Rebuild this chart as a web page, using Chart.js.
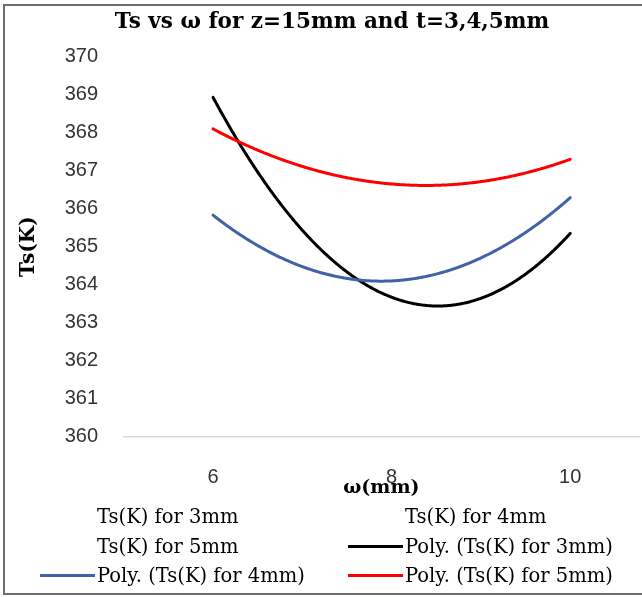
<!DOCTYPE html>
<html><head><meta charset="utf-8">
<script src="https://cdn.jsdelivr.net/npm/chart.js@4"></script>
<style>
html,body{margin:0;padding:0;background:#fff;overflow:hidden;width:642px;height:597px;}
#frame{position:absolute;left:3px;top:4px;right:0;bottom:2px;border:2px solid #6e6e6e;border-right:none;box-sizing:border-box;}
#wrap{position:absolute;left:0;top:0;width:642px;height:500px;}
#legend{position:absolute;left:0;top:0;width:642px;height:597px;font-family:'DejaVu Serif';font-size:19.5px;color:#000;pointer-events:none;}
.item{position:absolute;height:28px;line-height:28px;white-space:nowrap;}
.swatch{display:inline-block;width:55px;height:3px;vertical-align:middle;margin-right:2px;position:relative;top:-1px;}
</style>
</head><body>
<div id="frame"></div>
<div id="wrap"><canvas id="c" width="642" height="500"></canvas></div>
<div id="legend"></div>
<script>
// ---- data ----
const omegaValues = [6, 8, 10];                 // ω (mm)
const ts3mm = [368.93, 363.67, 365.35];         // Ts(K) for 3mm
const ts4mm = [365.83, 364.10, 366.29];         // Ts(K) for 4mm
const ts5mm = [368.10, 366.65, 367.30];         // Ts(K) for 5mm
const xTickValues = [6, 8, 10];
const yTickMin = 360, yTickMax = 370, yTickStep = 1;
const seriesNames = ['Ts(K) for 3mm', 'Ts(K) for 4mm', 'Ts(K) for 5mm'];
const trendColors = ['#000000', '#3f62a8', '#ff0000'];
const trendOrder = 2;
const xAxisMin = 5, xAxisMax = 10.77;

const toPoints = arr => arr.map((v, i) => ({x: omegaValues[i], y: v}));
const seriesData = [ts3mm, ts4mm, ts5mm];

const datasets = [];
seriesData.forEach((arr, i) => datasets.push({
  label: seriesNames[i], data: toPoints(arr), showLine: false, pointRadius: 0,
  pointHoverRadius: 0, borderWidth: 0, borderColor: 'rgba(0,0,0,0)', legendLine: false
}));
seriesData.forEach((arr, i) => datasets.push({
  label: 'Poly. (' + seriesNames[i] + ')', data: toPoints(arr), showLine: false, pointRadius: 0,
  pointHoverRadius: 0, borderWidth: 3, borderColor: trendColors[i], trendOrder: trendOrder, legendLine: true
}));

// least squares polynomial fit (Excel "Poly." trendline)
function polyFit(xs, ys, order) {
  const n = order + 1;
  const A = Array.from({length: n}, () => new Array(n + 1).fill(0));
  for (let r = 0; r < n; r++) {
    for (let c = 0; c < n; c++) A[r][c] = xs.reduce((s, x) => s + Math.pow(x, r + c), 0);
    A[r][n] = xs.reduce((s, x, k) => s + ys[k] * Math.pow(x, r), 0);
  }
  for (let i = 0; i < n; i++) {
    let p = i;
    for (let k = i + 1; k < n; k++) if (Math.abs(A[k][i]) > Math.abs(A[p][i])) p = k;
    [A[i], A[p]] = [A[p], A[i]];
    for (let k = i + 1; k < n; k++) {
      const f = A[k][i] / A[i][i];
      for (let c = i; c <= n; c++) A[k][c] -= f * A[i][c];
    }
  }
  const coef = new Array(n).fill(0);
  for (let i = n - 1; i >= 0; i--) {
    let s = A[i][n];
    for (let c = i + 1; c < n; c++) s -= A[i][c] * coef[c];
    coef[i] = s / A[i][i];
  }
  return coef;
}
const evalPoly = (coef, x) => coef.reduce((s, c, k) => s + c * Math.pow(x, k), 0);

const trendPlugin = {
  id: 'polyTrend',
  afterDatasetsDraw(chart) {
    const {ctx, scales: {x, y}} = chart;
    chart.data.datasets.forEach(ds => {
      if (!ds.trendOrder) return;
      const xs = ds.data.map(p => p.x), ys = ds.data.map(p => p.y);
      const coef = polyFit(xs, ys, ds.trendOrder);
      const px0 = x.getPixelForValue(Math.min(...xs));
      const px1 = x.getPixelForValue(Math.max(...xs));
      ctx.save();
      ctx.beginPath();
      let first = true;
      for (let px = px0; ; px += 1) {
        const pxc = Math.min(px, px1);
        const py = y.getPixelForValue(evalPoly(coef, x.getValueForPixel(pxc)));
        if (first) { ctx.moveTo(pxc, py); first = false; } else ctx.lineTo(pxc, py);
        if (pxc >= px1) break;
      }
      ctx.strokeStyle = ds.borderColor;
      ctx.lineWidth = ds.borderWidth;
      ctx.lineJoin = 'round';
      ctx.lineCap = 'round';
      ctx.stroke();
      ctx.restore();
    });
  }
};

const chart = new Chart(document.getElementById('c'), {
  type: 'line',
  data: {datasets},
  options: {
    responsive: false, animation: false, devicePixelRatio: 1,
    layout: {padding: {left: 25, right: 3, top: 0, bottom: 0}},
    plugins: {
      legend: {display: false},
      tooltip: {enabled: false},
      title: {
        display: true, text: 'Ts vs ω for z=15mm and t=3,4,5mm', color: '#000',
        font: {family: 'DejaVu Serif', size: 21.5, weight: 'bold', lineHeight: 1.2},
        padding: {top: 9.1, bottom: 21.8}
      }
    },
    scales: {
      x: {
        type: 'linear', min: xAxisMin, max: xAxisMax,
        afterBuildTicks: s => { s.ticks = xTickValues.map(v => ({value: v})); },
        grid: {display: false, drawTicks: false},
        border: {display: true, color: '#d9d9d9', width: 1.5},
        ticks: {font: {family: 'Liberation Sans', size: 20}, color: '#333333', padding: 29, maxRotation: 0},
        title: {display: true, text: 'ω(mm)', color: '#000',
          font: {family: 'DejaVu Serif', size: 19, weight: 'bold', lineHeight: 1.2},
          padding: {top: 0, bottom: 1}},
        afterFit: s => { s.height = 63.3; }
      },
      y: {
        min: yTickMin, max: yTickMax,
        ticks: {stepSize: yTickStep, font: {family: 'Liberation Sans', size: 20}, color: '#333333', padding: 25.75},
        grid: {display: false, drawTicks: false},
        border: {display: false},
        title: {display: true, text: 'Ts(K)', color: '#000',
          font: {family: 'DejaVu Serif', size: 20, weight: 'bold', lineHeight: 1.2},
          padding: {top: -8, bottom: 0}},
        afterFit: s => { s.width = 98.75; }
      }
    }
  },
  plugins: [trendPlugin]
});

// HTML legend (2 columns, row-major) built from the chart's datasets
const legendEl = document.getElementById('legend');
const colTextX = [97, 405];
const rowCenterY = [517, 546.5, 576];
chart.data.datasets.forEach((ds, i) => {
  const col = i % 2, row = Math.floor(i / 2);
  const item = document.createElement('div');
  item.className = 'item';
  item.style.left = (colTextX[col] - 57) + 'px';
  item.style.top = (rowCenterY[row] - 14) + 'px';
  const sw = document.createElement('span');
  sw.className = 'swatch';
  sw.style.background = ds.legendLine ? ds.borderColor : 'transparent';
  item.appendChild(sw);
  item.appendChild(document.createTextNode(ds.label));
  legendEl.appendChild(item);
});
</script>
</body></html>
